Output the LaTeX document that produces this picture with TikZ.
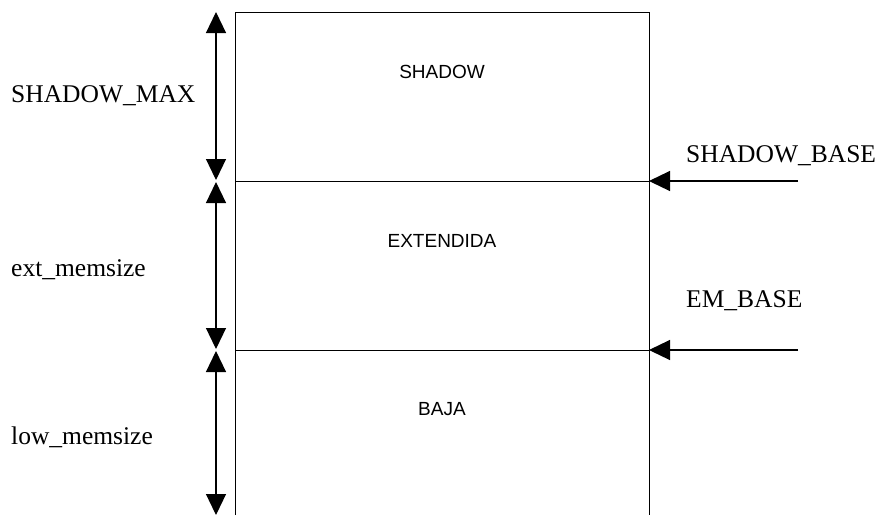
\documentclass[tikz,border=0pt]{standalone}
\usepackage{fontspec}
\setmainfont{Liberation Serif}
\newfontfamily\boxfont{Liberation Sans}
\usetikzlibrary{arrows.meta}
\begin{document}
\begin{tikzpicture}[x=1pt,y=-1pt,
  >={Triangle[length=21pt,width=20pt]},
  wall/.style={line width=1pt},
  span/.style={line width=1.2pt,<->},
  ptr/.style={line width=1.2pt,->},
  sidelabel/.style={font=\fontsize{25.5}{28}\selectfont,anchor=west,inner sep=0pt},
  arealabel/.style={font=\boxfont\fontsize{19}{22}\selectfont,inner sep=0pt}]
  \useasboundingbox (0,0) rectangle (879,515);
  % memory block outline and partitions
  \coordinate (tl) at (235,12);
  \coordinate (tr) at (649,12);
  \coordinate (bl) at (235,515);
  \coordinate (br) at (649,515);
  \coordinate (sl) at (235,181);
  \coordinate (sr) at (649,181);
  \coordinate (el) at (235,350);
  \coordinate (er) at (649,350);
  \draw[wall] (bl) -- (tl) -- (tr) -- (br);
  \draw[wall] (sl) -- (sr);
  \draw[wall] (el) -- (er);
  % area names
  \node[arealabel] (shadow) at (442,72) {SHADOW};
  \node[arealabel] (ext) at (442,241) {EXTENDIDA};
  \node[arealabel] (baja) at (442,409) {BAJA};
  % size spans
  \coordinate (a0) at (216,12);
  \coordinate (a1) at (216,180);
  \coordinate (a2) at (216,182);
  \coordinate (a3) at (216,349);
  \coordinate (a4) at (216,351);
  \coordinate (a5) at (216,515);
  \draw[span] (a0) -- (a1);
  \draw[span] (a2) -- (a3);
  \draw[span] (a4) -- (a5);
  \node[sidelabel] (lmax) at (11,96) {SHADOW\_MAX};
  \node[sidelabel] (lext) at (11,270) {ext\_memsize};
  \node[sidelabel] (llow) at (11,437) {low\_memsize};
  % base pointers
  \coordinate (p1) at (798,181);
  \coordinate (p2) at (798,350);
  \draw[ptr] (p1) -- (sr);
  \draw[ptr] (p2) -- (er);
  \node[sidelabel] (lsb) at (686,156) {SHADOW\_BASE};
  \node[sidelabel] (leb) at (686,301) {EM\_BASE};
\end{tikzpicture}
\end{document}
